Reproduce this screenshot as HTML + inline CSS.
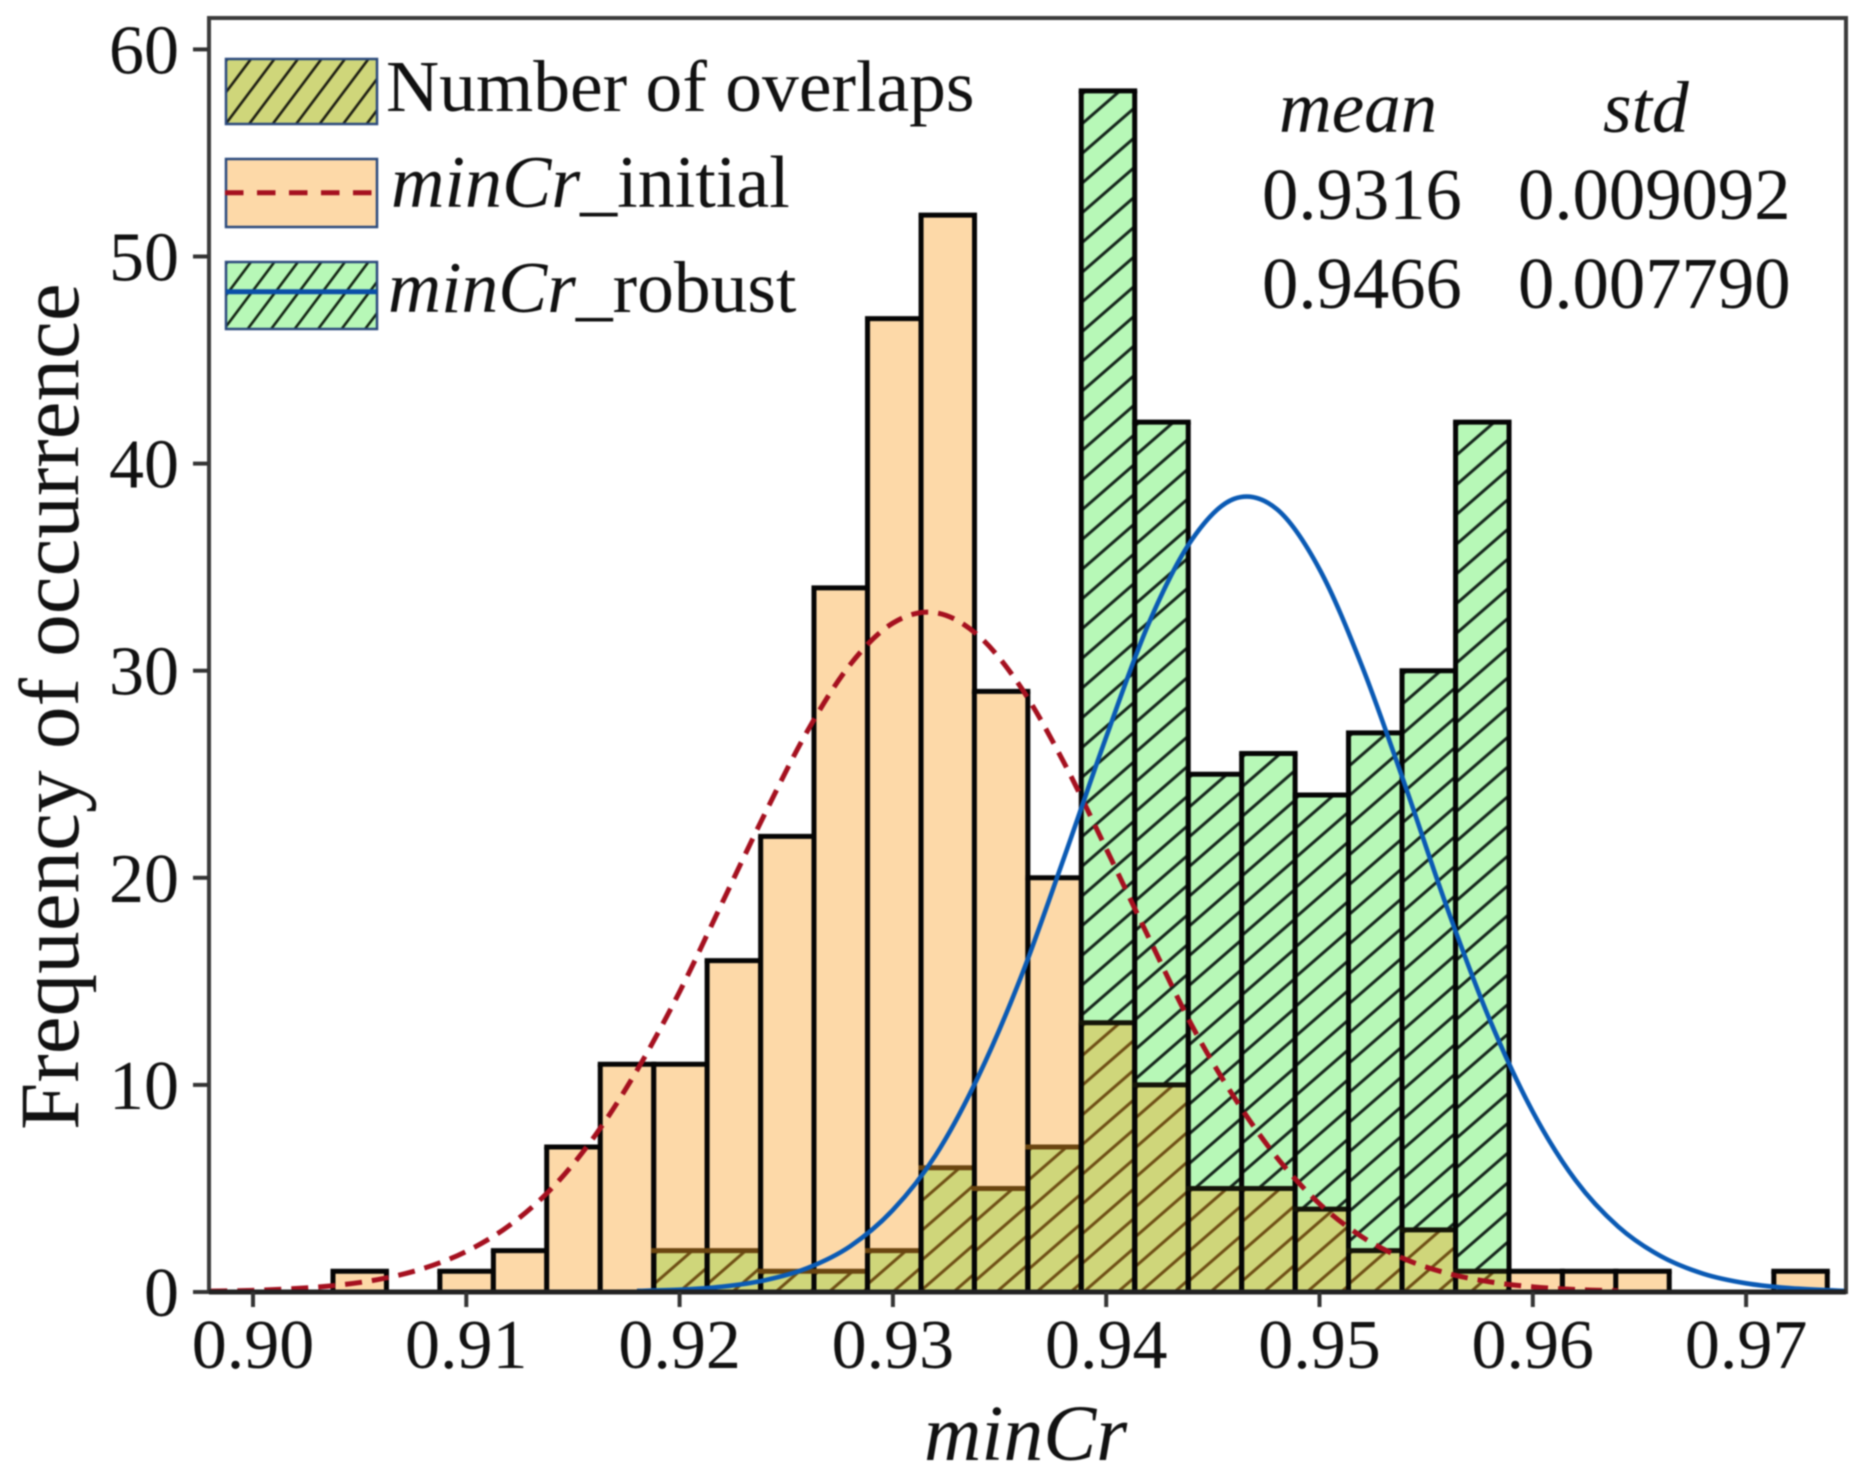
<!DOCTYPE html>
<html lang="en">
<head>
<meta charset="utf-8">
<title>minCr histogram</title>
<style>
html,body{margin:0;padding:0;background:#fff;}
svg{display:block;filter:blur(0.8px);}
text{font-family:"Liberation Serif",serif;fill:#111;}
.it{font-style:italic;}
</style>
</head>
<body>
<svg id="chart" xmlns="http://www.w3.org/2000/svg" width="1870" height="1478" viewBox="0 0 1870 1478">
  <defs id="defs">
    <pattern id="lg-olive" patternUnits="userSpaceOnUse" width="23.5" height="31.3" patternTransform="translate(251.7,58)">
      <path d="M-11.75 46.95L35.25 -15.65M-11.75 15.65L11.75 -15.65M11.75 46.95L35.25 15.65" stroke="#1a1a10" stroke-width="2.6" fill="none"/>
    </pattern>
    <pattern id="lg-green" patternUnits="userSpaceOnUse" width="23.5" height="31.3" patternTransform="translate(251.7,261)">
      <path d="M-11.75 46.95L35.25 -15.65M-11.75 15.65L11.75 -15.65M11.75 46.95L35.25 15.65" stroke="#102010" stroke-width="2.6" fill="none"/>
    </pattern>
  </defs>
  <rect x="0" y="0" width="1870" height="1478" fill="#fff"/>
  <g id="bars"></g>
  <g id="curves"></g>
  <rect x="209" y="18" width="1637" height="1274" fill="none" stroke="#3a3a3a" stroke-width="4"/>
  <g id="axes"></g>

  <text transform="translate(78,1130) rotate(-90)" font-size="85.2">Frequency of occurrence</text>
  <text class="it" x="924" y="1460" font-size="79.5">minCr</text>

  <g>
    <g>
      <rect x="226" y="59" width="151" height="65" fill="#cfd67a"/>
      <rect x="226" y="59" width="151" height="65" fill="url(#lg-olive)" stroke="#2b4a7c" stroke-width="2.5"/>
      <text x="386" y="111" font-size="73.6">Number of overlaps</text>
    </g>
    <g>
      <rect x="226" y="159" width="151" height="68" fill="#fdd9a8" stroke="#2b4a7c" stroke-width="2.5"/>
      <line x1="225" x2="377" y1="192.7" y2="192.7" stroke="#a5101f" stroke-width="5" stroke-dasharray="18.5 13.5"/>
      <text x="391" y="207" font-size="74"><tspan class="it">minCr</tspan>_initial</text>
    </g>
    <g>
      <rect x="226" y="262" width="151" height="67" fill="#b7f8b7"/>
      <rect x="226" y="262" width="151" height="67" fill="url(#lg-green)" stroke="#2b4a7c" stroke-width="2.5"/>
      <line x1="226" x2="377" y1="291.7" y2="291.7" stroke="#0a4fa8" stroke-width="5"/>
      <text x="388" y="312" font-size="73.5"><tspan class="it">minCr</tspan>_robust</text>
    </g>
  </g>

  <g>
    <text class="it" x="1279" y="132" font-size="73">mean</text>
    <text class="it" x="1603" y="132" font-size="73.5">std</text>
    <text x="1262" y="219" font-size="72.7">0.9316</text>
    <text x="1518" y="219" font-size="72.7">0.009092</text>
    <text x="1262" y="308" font-size="72.7">0.9466</text>
    <text x="1518" y="308" font-size="72.7">0.007790</text>
  </g>
</svg>

<script>
// ---- chart data ----
const binLeft = [0.90375,0.90626,0.90876,0.91127,0.91377,0.91628,0.91879,0.92129,0.92380,0.92630,0.92881,0.93132,0.93382,0.93633,0.93883,0.94134,0.94385,0.94635,0.94886,0.95136,0.95387,0.95638,0.95888,0.96139,0.96389,0.96640,0.96890,0.97130];
const binWidth = 0.002506;
const initialCounts = [1,0,1,2,7,11,11,16,22,34,47,52,29,20,13,10,5,5,4,2,3,1,1,1,1,0,0,1];
const robustCounts  = [0,0,0,0,0,0,2,2,1,1,2,6,5,7,58,42,25,26,24,27,30,42,0,0,0,0,0,0];
const initialFitX = [0.898,0.900,0.902,0.904,0.906,0.908,0.910,0.912,0.914,0.916,0.918,0.920,0.922,0.924,0.926,0.928,0.930,0.932,0.934,0.936,0.938,0.940,0.942,0.944,0.946,0.948,0.950,0.952,0.954,0.956,0.958,0.960,0.962,0.964];
const initialFitY = [0.04,0.08,0.17,0.33,0.63,1.14,1.96,3.2,5.0,7.5,10.7,14.5,18.8,23.1,27.1,30.3,32.3,32.8,31.7,29.2,25.6,21.4,17.1,12.9,9.4,6.5,4.26,2.66,1.59,0.90,0.49,0.25,0.12,0.06];
const robustFitX = [0.918,0.920,0.922,0.924,0.926,0.928,0.930,0.932,0.934,0.936,0.938,0.940,0.942,0.944,0.946,0.948,0.950,0.952,0.954,0.956,0.958,0.960,0.962,0.964,0.966,0.968,0.970,0.972,0.974,0.9747];
const robustFitY = [0.05,0.11,0.26,0.57,1.16,2.21,3.96,6.6,10.4,15.2,20.9,26.8,32.3,36.3,38.3,37.8,34.9,30.2,24.5,18.5,13.1,8.7,5.4,3.16,1.73,0.88,0.42,0.19,0.08,0.05];
const xTickValues = [0.90,0.91,0.92,0.93,0.94,0.95,0.96,0.97];
const xTickLabels = ["0.90","0.91","0.92","0.93","0.94","0.95","0.96","0.97"];
const yTickValues = [0,10,20,30,40,50,60];
const yTickLabels = ["0","10","20","30","40","50","60"];

// ---- axis functions ----
function xScale(v){ return 253 + (v - 0.90) * 21330; }
function yScale(v){ return 1292 - v * 20.71; }

const NS = 'http://www.w3.org/2000/svg';
const defs = document.getElementById('defs');
const barsG = document.getElementById('bars');
const curvesG = document.getElementById('curves');
const axesG = document.getElementById('axes');

function mk(tag, attrs, parent){
  const e = document.createElementNS(NS, tag);
  for (const k in attrs) e.setAttribute(k, attrs[k]);
  parent.appendChild(e);
  return e;
}

const HW = 34.14, HH = 29.7;
let patternCount = 0;
function hatchPattern(x, top, color){
  const id = 'hatch' + (patternCount++);
  const p = mk('pattern', {id:id, patternUnits:'userSpaceOnUse', width:HW, height:HH,
    patternTransform:'translate(' + x + ',' + (top + 4) + ')'}, defs);
  
  
  const w = HW, h = HH;
  mk('path', {d:'M' + (-w/2) + ' ' + (1.5*h) + 'L' + (1.5*w) + ' ' + (-h/2) +
     'M' + (-w/2) + ' ' + (h/2) + 'L' + (w/2) + ' ' + (-h/2) +
     'M' + (w/2) + ' ' + (1.5*h) + 'L' + (1.5*w) + ' ' + (h/2),
     stroke:color, 'stroke-width':3, fill:'none'}, p);
  return id;
}

function drawBar(i, value, fill, hatchColor, stroke, name){
  const x0 = xScale(binLeft[i]);
  const x1 = xScale(binLeft[i] + binWidth);
  const top = yScale(value);
  const base = yScale(0);
  const r = mk('rect', {x:x0, y:top, width:x1 - x0, height:base - top, fill:fill, stroke:'none'}, barsG);
  
  
  if (hatchColor){
    const id = hatchPattern(x0, top, hatchColor);
    const h = mk('rect', {x:x0, y:top, width:x1 - x0, height:base - top, fill:'url(#' + id + ')', stroke:'none'}, barsG);
    
    
  }
  return {x0:x0, x1:x1, top:top, base:base};
}

function outline(b, topColor, name){
  const sides = mk('path', {d:'M' + b.x0 + ' ' + b.base + 'V' + b.top + 'M' + b.x1 + ' ' + b.top + 'V' + b.base,
    stroke:'#050505', 'stroke-width':5, fill:'none'}, barsG);
  
  
  const t = mk('line', {x1:b.x0 - 2.5, x2:b.x1 + 2.5, y1:b.top, y2:b.top, stroke:topColor, 'stroke-width':5}, barsG);
  
  
}

// orange bars (initial) where initial dominates, green bars (robust) where robust dominates
const ORANGE = '#fdd9a8', GREEN = '#b7f8b7', OLIVE = '#cfd67a';
for (let i = 0; i < binLeft.length; i++){
  const a = initialCounts[i], b = robustCounts[i];
  const hi = Math.max(a, b), lo = Math.min(a, b);
  if (hi === 0) continue;
  const robustOnTop = b > a;
  const box = robustOnTop
    ? drawBar(i, hi, GREEN, '#14241a', '#000', 'bar-robust')
    : drawBar(i, hi, ORANGE, null, '#000', 'bar-initial');
  let lowBox = null;
  if (lo > 0) lowBox = drawBar(i, lo, OLIVE, '#6e4e14', '#000', 'bar-overlap');
  outline(box, '#050505', robustOnTop ? 'bar-robust-outline' : 'bar-initial-outline');
  if (lowBox) outline(lowBox, robustOnTop ? '#141408' : '#6a4510', 'bar-overlap-outline');
}

// smooth path through points
function smoothPath(xs, ys){
  const pts = xs.map(function(x, i){ return [xScale(x), yScale(ys[i])]; });
  let d = 'M' + pts[0][0] + ' ' + pts[0][1];
  for (let i = 0; i < pts.length - 1; i++){
    const p0 = pts[Math.max(i - 1, 0)], p1 = pts[i], p2 = pts[i + 1], p3 = pts[Math.min(i + 2, pts.length - 1)];
    d += 'C' + (p1[0] + (p2[0] - p0[0]) / 6) + ' ' + (p1[1] + (p2[1] - p0[1]) / 6) + ' ' +
         (p2[0] - (p3[0] - p1[0]) / 6) + ' ' + (p2[1] - (p3[1] - p1[1]) / 6) + ' ' + p2[0] + ' ' + p2[1];
  }
  return d;
}

const initialLine = mk('path', {d:smoothPath(initialFitX, initialFitY), fill:'none', stroke:'#a5101f', 'stroke-width':5, 'stroke-dasharray':'17 10'}, curvesG);


const robustLine = mk('path', {d:smoothPath(robustFitX, robustFitY), fill:'none', stroke:'#0a5ab4', 'stroke-width':4.6}, curvesG);



// axes
const baseLine = mk('line', {x1:209, x2:1846, y1:yScale(0), y2:yScale(0), stroke:'#222', 'stroke-width':5}, axesG);


xTickValues.forEach(function(v, i){
  const x = xScale(v);
  const t = mk('line', {x1:x, x2:x, y1:yScale(0), y2:yScale(0) + 15, stroke:'#333', 'stroke-width':4}, axesG);
  
  
  const l = mk('text', {x:x, y:1368, 'font-size':70, 'text-anchor':'middle'}, axesG);
  
  
  l.textContent = xTickLabels[i];
});
yTickValues.forEach(function(v, i){
  const y = yScale(v);
  const t = mk('line', {x1:193, x2:209, y1:y, y2:y, stroke:'#333', 'stroke-width':4}, axesG);
  
  
  const l = mk('text', {x:179, y:y + 24, 'font-size':70, 'text-anchor':'end'}, axesG);
  
  
  l.textContent = yTickLabels[i];
});
</script>
</body>
</html>
